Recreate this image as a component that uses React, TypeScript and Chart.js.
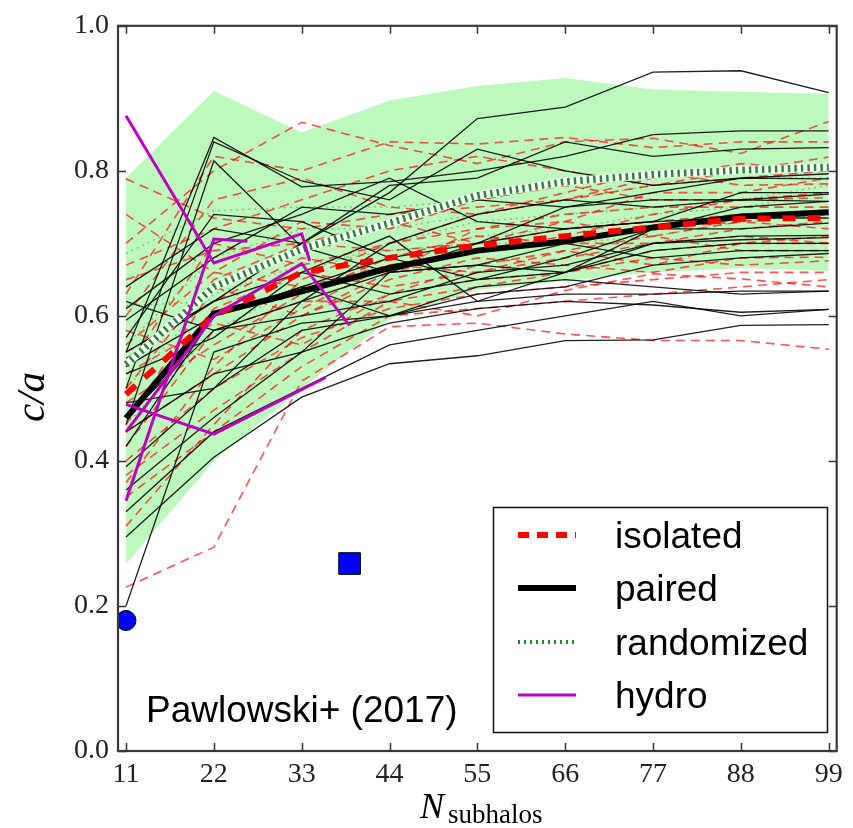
import React, { useEffect, useRef } from 'react';
import { Chart, registerables } from 'chart.js';

Chart.register(...registerables);

// ---------- data ----------
const xValues = [11, 22, 33, 44, 55, 66, 77, 88, 99];
const xTicks = [11, 22, 33, 44, 55, 66, 77, 88, 99];
const yTicks = [0, 0.2, 0.4, 0.6, 0.8, 1.0];

const bandUpper = [0.79, 0.91, 0.853, 0.897, 0.917, 0.928, 0.912, 0.909, 0.906];
const bandLower = [0.258, 0.40, 0.50, 0.595, 0.636, 0.648, 0.66, 0.666, 0.662];

const pairedMean = [0.459, 0.603, 0.634, 0.666, 0.690, 0.703, 0.722, 0.737, 0.743];
const isolatedMean = [0.492, 0.600, 0.660, 0.680, 0.697, 0.710, 0.722, 0.734, 0.735];
const randomizedMean = [0.533, 0.640, 0.692, 0.728, 0.766, 0.785, 0.795, 0.801, 0.805];

const pairedHalos = [
  [0.55, 0.62, 0.70, 0.77, 0.872, 0.888, 0.936, 0.938, 0.908],
  [0.55, 0.846, 0.778, 0.785, 0.80, 0.82, 0.85, 0.855, 0.855],
  [0.50, 0.84, 0.786, 0.76, 0.83, 0.80, 0.78, 0.79, 0.789],
  [0.45, 0.814, 0.695, 0.66, 0.70, 0.75, 0.77, 0.79, 0.796],
  [0.64, 0.72, 0.70, 0.78, 0.79, 0.84, 0.82, 0.83, 0.832],
  [0.61, 0.70, 0.74, 0.79, 0.73, 0.72, 0.73, 0.77, 0.770],
  [0.594, 0.68, 0.75, 0.74, 0.76, 0.75, 0.76, 0.76, 0.768],
  [0.541, 0.62, 0.66, 0.71, 0.62, 0.66, 0.72, 0.75, 0.758],
  [0.53, 0.60, 0.64, 0.68, 0.70, 0.72, 0.73, 0.735, 0.735],
  [0.52, 0.57, 0.66, 0.63, 0.65, 0.68, 0.72, 0.72, 0.728],
  [0.48, 0.50, 0.62, 0.66, 0.67, 0.66, 0.70, 0.71, 0.711],
  [0.46, 0.58, 0.60, 0.62, 0.66, 0.67, 0.70, 0.705, 0.708],
  [0.44, 0.52, 0.55, 0.66, 0.67, 0.70, 0.68, 0.69, 0.690],
  [0.42, 0.60, 0.64, 0.60, 0.63, 0.64, 0.67, 0.68, 0.686],
  [0.392, 0.50, 0.58, 0.60, 0.62, 0.63, 0.63, 0.634, 0.634],
  [0.36, 0.46, 0.55, 0.59, 0.61, 0.62, 0.615, 0.605, 0.609],
  [0.295, 0.405, 0.488, 0.534, 0.545, 0.566, 0.567, 0.587, 0.588],
  [0.20, 0.55, 0.59, 0.60, 0.64, 0.65, 0.64, 0.63, 0.634],
  [0.33, 0.44, 0.50, 0.56, 0.58, 0.60, 0.62, 0.60, 0.609],
  [0.57, 0.74, 0.73, 0.68, 0.65, 0.66, 0.69, 0.70, 0.70],
  [0.62, 0.58, 0.62, 0.70, 0.74, 0.76, 0.75, 0.76, 0.758],
];

const isolatedHalos = [
  [0.789, 0.735, 0.72, 0.74, 0.75, 0.76, 0.78, 0.79, 0.80],
  [0.70, 0.80, 0.867, 0.835, 0.81, 0.84, 0.845, 0.824, 0.868],
  [0.63, 0.82, 0.80, 0.84, 0.837, 0.846, 0.832, 0.84, 0.84],
  [0.67, 0.72, 0.76, 0.80, 0.82, 0.80, 0.78, 0.80, 0.819],
  [0.60, 0.76, 0.79, 0.75, 0.74, 0.77, 0.80, 0.78, 0.782],
  [0.56, 0.66, 0.73, 0.72, 0.76, 0.78, 0.76, 0.76, 0.763],
  [0.53, 0.70, 0.67, 0.70, 0.72, 0.74, 0.75, 0.75, 0.75],
  [0.50, 0.65, 0.70, 0.69, 0.70, 0.72, 0.73, 0.74, 0.74],
  [0.48, 0.56, 0.63, 0.68, 0.71, 0.70, 0.70, 0.71, 0.70],
  [0.46, 0.61, 0.66, 0.64, 0.66, 0.69, 0.71, 0.69, 0.69],
  [0.44, 0.52, 0.60, 0.65, 0.68, 0.67, 0.66, 0.68, 0.681],
  [0.42, 0.58, 0.62, 0.62, 0.64, 0.66, 0.68, 0.67, 0.676],
  [0.40, 0.50, 0.57, 0.61, 0.63, 0.64, 0.65, 0.66, 0.66],
  [0.38, 0.47, 0.55, 0.62, 0.60, 0.635, 0.658, 0.651, 0.64],
  [0.35, 0.44, 0.53, 0.60, 0.61, 0.62, 0.63, 0.64, 0.65],
  [0.226, 0.281, 0.51, 0.585, 0.59, 0.575, 0.566, 0.566, 0.554],
  [0.31, 0.45, 0.58, 0.63, 0.65, 0.66, 0.69, 0.70, 0.71],
  [0.55, 0.62, 0.68, 0.66, 0.69, 0.71, 0.74, 0.76, 0.77],
  [0.65, 0.69, 0.70, 0.73, 0.70, 0.73, 0.77, 0.77, 0.79],
  [0.58, 0.54, 0.61, 0.67, 0.66, 0.68, 0.70, 0.72, 0.73],
  [0.74, 0.66, 0.64, 0.67, 0.69, 0.70, 0.72, 0.73, 0.72],
  [0.45, 0.64, 0.60, 0.66, 0.72, 0.73, 0.71, 0.73, 0.745],
  [0.37, 0.53, 0.65, 0.70, 0.74, 0.76, 0.79, 0.81, 0.80],
  [0.52, 0.59, 0.56, 0.63, 0.67, 0.69, 0.67, 0.70, 0.70],
];

const randomizedHalos = [
  [0.686, 0.745, 0.75, 0.75, 0.76, 0.78, 0.79, 0.80, 0.81],
  [0.614, 0.62, 0.66, 0.70, 0.73, 0.74, 0.75, 0.76, 0.78],
  [0.56, 0.68, 0.72, 0.72, 0.74, 0.76, 0.78, 0.79, 0.79],
  [0.50, 0.63, 0.67, 0.69, 0.70, 0.70, 0.71, 0.73, 0.74],
  [0.45, 0.58, 0.64, 0.68, 0.71, 0.72, 0.74, 0.75, 0.77],
];

const hydro1X = [11, 22, 33, 34];
const hydro1Y = [0.876, 0.673, 0.713, 0.676];
const hydro2X = [11, 22, 33, 39];
const hydro2Y = [0.44, 0.60, 0.672, 0.587];
const hydro3X = [11, 22, 26.2];
const hydro3Y = [0.345, 0.706, 0.703];
const hydro4X = [11, 22, 36];
const hydro4Y = [0.478, 0.437, 0.515];

const circleX = [11];
const circleY = [0.18];
const squareX = [39];
const squareY = [0.2585];

const legendLabels = ['isolated', 'paired', 'randomized', 'hydro'];
const annotationText = 'Pawlowski+ (2017)';

// ---------- styles ----------
const RED_THIN = 'rgba(255,0,0,0.68)';
const BLACK_THIN = 'rgba(0,0,0,0.88)';
const GREEN_DOT = 'rgba(0,115,20,0.85)';
const MAGENTA = '#bf00bf';
const BAND = '#bdf8bd';

const pts = (xs: number[], ys: number[]) => xs.map((x, i) => ({ x, y: ys[i] }));

const overlay = {
  id: 'overlay',
  afterDraw(chart: any) {
    const ctx = chart.ctx;
    const { left, right, top, bottom } = chart.chartArea;
    const xs = chart.scales.x;
    const ys = chart.scales.y;
    ctx.save();
    // inward ticks
    ctx.strokeStyle = '#333';
    ctx.lineWidth = 1.5;
    ctx.beginPath();
    xTicks.forEach((v) => {
      const px = Math.round(xs.getPixelForValue(v)) + 0.5;
      ctx.moveTo(px, bottom);
      ctx.lineTo(px, bottom - 8);
      ctx.moveTo(px, top);
      ctx.lineTo(px, top + 8);
    });
    yTicks.forEach((v) => {
      const py = Math.round(ys.getPixelForValue(v)) + 0.5;
      ctx.moveTo(left, py);
      ctx.lineTo(left + 8, py);
      ctx.moveTo(right, py);
      ctx.lineTo(right - 8, py);
    });
    ctx.stroke();
    // spines
    ctx.strokeStyle = '#3a3a3a';
    ctx.lineWidth = 2.2;
    ctx.strokeRect(left, top, right - left, bottom - top);

    // annotation
    ctx.fillStyle = '#000';
    ctx.font = '37px "Liberation Sans", Arial, sans-serif';
    ctx.textAlign = 'left';
    ctx.textBaseline = 'alphabetic';
    ctx.fillText(annotationText, 146, 722);

    // legend
    const bx = 493, by = 507, bw = 334, bh = 225;
    ctx.fillStyle = '#fff';
    ctx.fillRect(bx, by, bw, bh);
    ctx.strokeStyle = '#111';
    ctx.lineWidth = 1.5;
    ctx.strokeRect(bx + 0.5, by + 0.5, bw, bh);
    const rows = [535, 588, 642, 695];
    const x0 = 518, x1 = 576;
    ctx.lineCap = 'butt';
    ctx.setLineDash([11, 8]);
    ctx.strokeStyle = '#ff0000';
    ctx.lineWidth = 6;
    ctx.beginPath(); ctx.moveTo(x0, rows[0]); ctx.lineTo(x1, rows[0]); ctx.stroke();
    ctx.setLineDash([]);
    ctx.strokeStyle = '#000';
    ctx.lineWidth = 6;
    ctx.beginPath(); ctx.moveTo(x0, rows[1]); ctx.lineTo(x1, rows[1]); ctx.stroke();
    ctx.setLineDash([2, 4]);
    ctx.strokeStyle = GREEN_DOT;
    ctx.lineWidth = 4;
    ctx.beginPath(); ctx.moveTo(x0, rows[2]); ctx.lineTo(x1, rows[2]); ctx.stroke();
    ctx.setLineDash([]);
    ctx.strokeStyle = MAGENTA;
    ctx.lineWidth = 3;
    ctx.beginPath(); ctx.moveTo(x0, rows[3]); ctx.lineTo(x1, rows[3]); ctx.stroke();
    ctx.fillStyle = '#000';
    ctx.font = '37px "Liberation Sans", Arial, sans-serif';
    legendLabels.forEach((t, i) => ctx.fillText(t, 615, rows[i] + 13));

    // axis titles
    ctx.font = 'italic 36px "Liberation Serif", serif';
    ctx.fillText('N', 420, 818);
    ctx.font = '27px "Liberation Serif", serif';
    ctx.fillText('subhalos', 448, 823);

    ctx.save();
    ctx.translate(44, 397);
    ctx.rotate(-Math.PI / 2);
    ctx.textAlign = 'center';
    ctx.font = 'italic 41px "Liberation Serif", serif';
    ctx.fillText('c/a', 0, 0);
    ctx.restore();
    ctx.restore();
  },
};

export default function App() {
  const ref = useRef<HTMLCanvasElement | null>(null);
  useEffect(() => {
    if (!ref.current) return;
    const datasets: any[] = [];
    datasets.push({
      data: pts(xValues, bandUpper),
      borderWidth: 0, pointRadius: 0, backgroundColor: BAND,
      fill: '+1', order: 100,
    });
    datasets.push({
      data: pts(xValues, bandLower),
      borderWidth: 0, pointRadius: 0, fill: false, order: 100,
    });
    randomizedHalos.forEach((ys) =>
      datasets.push({
        data: pts(xValues, ys), borderColor: 'rgba(0,120,0,0.35)', borderWidth: 1.5,
        borderDash: [2, 4], pointRadius: 0, fill: false, order: 95,
      })
    );
    isolatedHalos.forEach((ys) =>
      datasets.push({
        data: pts(xValues, ys), borderColor: RED_THIN, borderWidth: 1.6,
        borderDash: [9, 6], pointRadius: 0, fill: false, order: 90,
      })
    );
    pairedHalos.forEach((ys) =>
      datasets.push({
        data: pts(xValues, ys), borderColor: BLACK_THIN, borderWidth: 1.3,
        pointRadius: 0, fill: false, order: 80,
      })
    );
    datasets.push({
      data: pts(xValues, randomizedMean), borderColor: '#ffffff', borderWidth: 8,
      pointRadius: 0, fill: false, order: 70,
    });
    datasets.push({
      data: pts(xValues, randomizedMean), borderColor: GREEN_DOT, borderWidth: 7,
      borderDash: [2.5, 4], pointRadius: 0, fill: false, order: 69,
    });
    datasets.push({
      data: pts(xValues, pairedMean), borderColor: '#000', borderWidth: 6,
      pointRadius: 0, fill: false, order: 60,
    });
    datasets.push({
      data: pts(xValues, isolatedMean), borderColor: '#ff0000', borderWidth: 6,
      borderDash: [13, 12], pointRadius: 0, fill: false, order: 59,
    });
    [[hydro1X, hydro1Y], [hydro2X, hydro2Y], [hydro3X, hydro3Y], [hydro4X, hydro4Y]].forEach(([hx, hy]) =>
      datasets.push({
        data: pts(hx, hy), borderColor: MAGENTA, borderWidth: 3,
        pointRadius: 0, fill: false, order: 50,
      })
    );
    datasets.push({
      data: pts(circleX, circleY), showLine: false, pointStyle: 'circle', pointRadius: 10,
      backgroundColor: '#0000ff', borderColor: '#000', pointBorderWidth: 1, order: 40,
    });
    datasets.push({
      data: pts(squareX, squareY), showLine: false, pointStyle: 'rect', pointRadius: 15.3,
      backgroundColor: '#0000ff', borderColor: '#000', pointBorderWidth: 1, order: 40,
    });

    const serifTick = { family: '"Liberation Serif", serif', size: 28 };
    const chart = new Chart(ref.current, {
      type: 'line',
      data: { datasets },
      plugins: [overlay],
      options: {
        animation: false,
        responsive: false,
        devicePixelRatio: 1,
        layout: { padding: { top: 25, right: 8, left: 0, bottom: 0 } },
        plugins: { legend: { display: false }, tooltip: { enabled: false } },
        elements: { line: { tension: 0 } },
        scales: {
          x: {
            type: 'linear', min: 10, max: 100,
            afterBuildTicks: (s: any) => { s.ticks = xTicks.map((v) => ({ value: v })); },
            afterFit: (s: any) => { s.height = 77; },
            grid: { display: false, drawTicks: false },
            border: { display: false },
            ticks: {
              font: serifTick, color: '#222', padding: 7, maxRotation: 0, autoSkip: false,
              callback: (v: any) => String(v),
            },
          },
          y: {
            type: 'linear', min: 0, max: 1,
            afterBuildTicks: (s: any) => { s.ticks = yTicks.map((v) => ({ value: v })); },
            afterFit: (s: any) => { s.width = 118; },
            grid: { display: false, drawTicks: false },
            border: { display: false },
            ticks: {
              font: serifTick, color: '#222', padding: 9,
              callback: (v: any) => Number(v).toFixed(1),
            },
          },
        },
      } as any,
    });
    return () => chart.destroy();
  }, []);
  return (
    <div style={{ position: 'absolute', left: 0, top: 0, width: 853, height: 828, background: '#fff' }}>
      <canvas ref={ref} width={853} height={828} style={{ width: 853, height: 828 }} />
    </div>
  );
}
